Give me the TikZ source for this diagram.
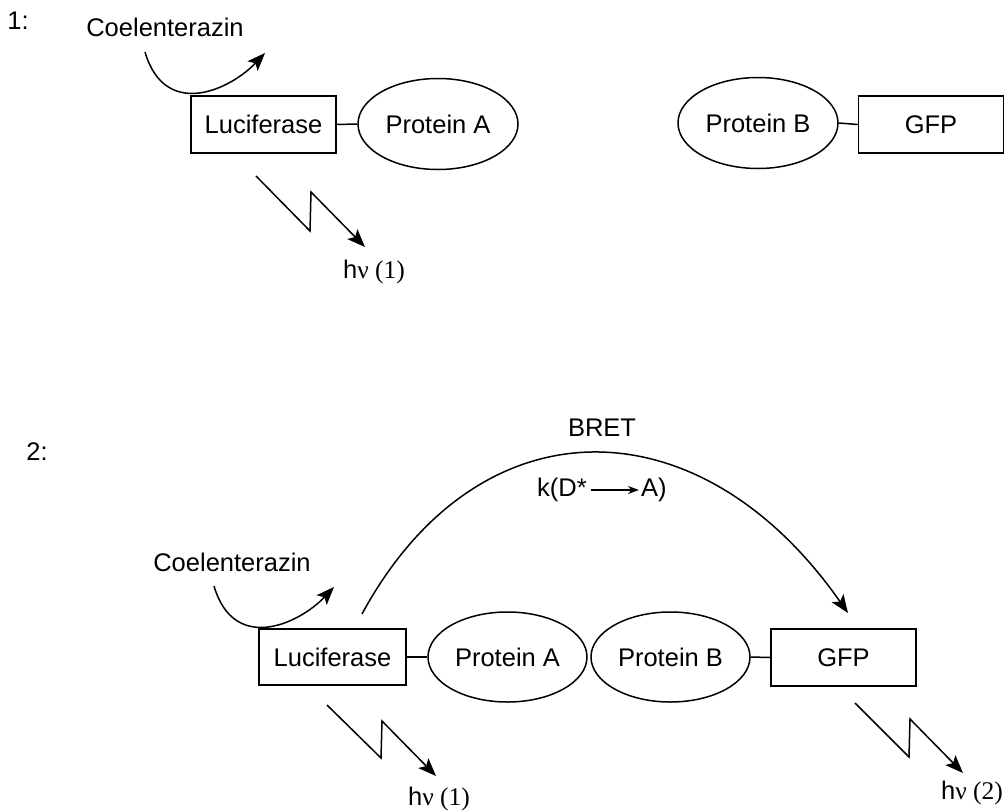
\documentclass[tikz,border=0pt]{standalone}
\usepackage{fontspec}
\setmainfont{Liberation Sans}
\newfontfamily\serifnu{Liberation Serif}
\usetikzlibrary{arrows.meta,shapes.geometric}
\begin{document}
\begin{tikzpicture}[x=1pt,y=-1pt,
  lw/.style={line width=1.5pt},
  txt/.style={font=\fontsize{25.5}{30}\selectfont, inner sep=0pt},
  boxnode/.style={draw, lw, rectangle, minimum width=145pt, minimum height=57pt, inner sep=0pt, font=\fontsize{25.5}{30}\selectfont},
  ellnode/.style={draw, lw, ellipse, minimum width=160pt, minimum height=91pt, inner sep=0pt, font=\fontsize{25.5}{30}\selectfont},
  link/.style={lw},
  arr/.style={lw, -{Stealth[length=18pt,width=14pt,inset=4pt]}},
  smallarr/.style={lw, -{Stealth[length=11pt,width=8pt]}}
]
\useasboundingbox (0,0) rectangle (1005,812);

% ---------- Part 1 ----------
\node[txt] (lab1) at (18,21) {1:};
\node[txt] (coel1) at (165,27) {Coelenterazin};
\coordinate (c1s) at (145,52);
\coordinate (c1e) at (265,53);
\draw[arr] (c1s) .. controls (165,120) and (230,90) .. (c1e);

\node[boxnode] (luc1) at (263.5,124.5) {Luciferase};
\node[ellnode] (pa1) at (438,124) {Protein A};
\draw[link] (luc1.east) -- (pa1.west);

\node[ellnode] (pb1) at (758,123) {Protein B};
\node[boxnode] (gfp1) at (931,124.5) {GFP};
\draw[link] (pb1.east) -- (gfp1.west);

\coordinate (l1a) at (256,176);
\coordinate (l1b) at (310,231);
\coordinate (l1c) at (311,192);
\coordinate (l1d) at (365,247);
\draw[arr] (l1a) -- (l1b) -- (l1c) -- (l1d);
\node[txt] (hv1) at (374,272) {h{\serifnu ν (1)}};

% ---------- Part 2 ----------
\node[txt] (lab2) at (37,452) {2:};
\node[txt] (coel2) at (232,562) {Coelenterazin};
\coordinate (c2s) at (214,586);
\coordinate (c2e) at (334,587);
\draw[arr] (c2s) .. controls (234,654) and (299,624) .. (c2e);

\node[boxnode, minimum width=147pt, minimum height=56pt] (luc2) at (332.5,657) {Luciferase};
\node[ellnode, minimum width=159pt, minimum height=90pt] (pa2) at (507.5,657) {Protein A};
\node[ellnode, minimum width=159pt, minimum height=90pt] (pb2) at (670.5,657) {Protein B};
\node[boxnode] (gfp2) at (843.5,657.5) {GFP};
\draw[link] (luc2.east) -- (pa2.west);
\draw[link] (pb2.east) -- (gfp2.west);

\node[txt] (bret) at (602,428) {BRET};
\node[txt, anchor=east] (kl) at (587,490) {k(D*};
\node[txt, anchor=west] (kr) at (641,490) {A)};
\draw[smallarr, shorten <=4pt, shorten >=2pt] (kl.east) -- (kr.west);

\coordinate (bs) at (362,614);
\coordinate (be) at (848,613);
\draw[arr] (bs) .. controls (478,400) and (699,400) .. (be);

\coordinate (l2a) at (327,705);
\coordinate (l2b) at (381,758);
\coordinate (l2c) at (382,721);
\coordinate (l2d) at (436,776);
\draw[arr] (l2a) -- (l2b) -- (l2c) -- (l2d);
\node[txt] (hv2) at (439,799) {h{\serifnu ν (1)}};

\coordinate (l3a) at (855,703);
\coordinate (l3b) at (909,757);
\coordinate (l3c) at (910,719);
\coordinate (l3d) at (963,773);
\draw[arr] (l3a) -- (l3b) -- (l3c) -- (l3d);
\node[txt] (hv3) at (972,793) {h{\serifnu ν (2)}};
\end{tikzpicture}
\end{document}
